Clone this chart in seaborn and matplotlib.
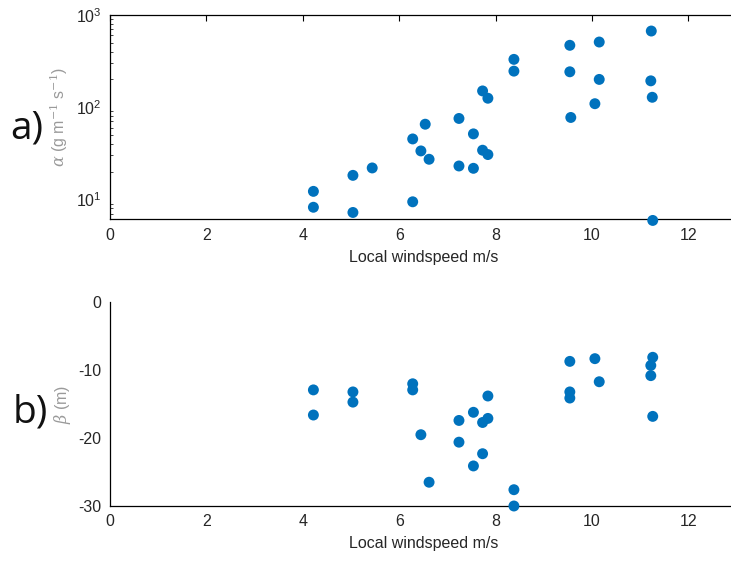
import numpy as np
import pandas as pd
import matplotlib
matplotlib.use("Agg")
import matplotlib.pyplot as plt
import seaborn as sns
from matplotlib.ticker import LogLocator, NullFormatter

# ---- data ----
alpha_wind = [4.22, 4.22, 5.04, 5.04, 5.44, 6.28, 6.54, 6.45, 6.62, 6.28,
              7.24, 7.24, 7.54, 7.54, 7.73, 7.84, 7.73, 7.84, 8.38, 8.38,
              9.54, 9.54, 9.56, 10.15, 10.15, 10.06, 11.23, 11.22, 11.25, 11.26]
alpha_vals = [12.2, 8.2, 18.2, 7.2, 21.9, 45.2, 65.3, 33.5, 27.2, 9.4,
              75.4, 23.0, 51.3, 21.7, 150, 125, 34.1, 30.6, 330, 246,
              469, 242, 77.3, 509, 200, 109, 670, 193, 128, 5.9]

beta_wind = [4.22, 4.22, 5.04, 5.04, 6.28, 6.28, 6.45, 6.62, 7.24, 7.24,
             7.54, 7.54, 7.84, 7.84, 7.73, 7.73, 8.38, 8.38, 9.54, 9.54,
             9.54, 10.06, 10.15, 11.26, 11.22, 11.22, 11.26]
beta_vals = [-12.9, -16.6, -13.2, -14.7, -12.0, -12.9, -19.5, -26.5, -17.4, -20.6,
             -16.2, -24.1, -13.8, -17.1, -17.7, -22.3, -27.6, -30.0, -8.7, -13.2,
             -14.1, -8.3, -11.7, -8.1, -9.3, -10.8, -16.8]

xticks = [0, 2, 4, 6, 8, 10, 12]
beta_ticks = [0, -10, -20, -30]
xlabel = "Local windspeed m/s"

df_a = pd.DataFrame({"wind": alpha_wind, "alpha": alpha_vals})
df_b = pd.DataFrame({"wind": beta_wind, "beta": beta_vals})

sns.set_style("white")
plt.rcParams["font.family"] = ["Liberation Sans", "DejaVu Sans"]
plt.rcParams["mathtext.fontset"] = "dejavuserif"
plt.rcParams["axes.unicode_minus"] = False

W, H = 731, 563
fig = plt.figure(figsize=(W / 100, H / 100), dpi=100)

def frac(l, t, r, b):
    return [l / W, 1 - b / H, (r - l) / W, (b - t) / H]

mcolor = "#0072BD"
tick_color = "#262626"
label_gray = "#9a9a9a"

axa = fig.add_axes(frac(110, 15, 736.6, 219.3))
axb = fig.add_axes(frac(110, 302.3, 736.6, 506))

sns.scatterplot(data=df_a, x="wind", y="alpha", ax=axa, s=62, color=mcolor,
                edgecolor="none", linewidth=0, legend=False, clip_on=False, zorder=3)
sns.scatterplot(data=df_b, x="wind", y="beta", ax=axb, s=62, color=mcolor,
                edgecolor="none", linewidth=0, legend=False, clip_on=False, zorder=3)

# top panel
axa.set_yscale("log")
axa.set_ylim(6.07, 1000)
axa.set_xlim(0, 13)
axa.set_xticks(xticks)
axa.yaxis.set_major_locator(LogLocator(base=10, numticks=10))
axa.yaxis.set_minor_locator(LogLocator(base=10, subs=np.arange(2, 10), numticks=10))
axa.yaxis.set_minor_formatter(NullFormatter())
axa.tick_params(axis="both", which="major", direction="in", length=4, width=0.8,
                labelsize=11.5, colors="#000000", labelcolor=tick_color,
                top=True, right=True, pad=6)
axa.tick_params(axis="y", which="minor", direction="in", length=2, width=0.6,
                left=True, right=True)
for side in ["left", "bottom", "top", "right"]:
    axa.spines[side].set_visible(True)
    axa.spines[side].set_color("#000000")
    axa.spines[side].set_linewidth(0.9)
axa.set_xlabel(xlabel, fontsize=11.5, color=tick_color, labelpad=5)
axa.set_ylabel(r"$\alpha$ (g m$^{-1}$ s$^{-1}$)", fontsize=11.5, color=label_gray, labelpad=4)

# bottom panel
axb.set_ylim(-30, 0)
axb.set_xlim(0, 13)
axb.set_xticks(xticks)
axb.set_yticks(beta_ticks)
axb.tick_params(axis="both", which="major", direction="in", length=4, width=0.8,
                labelsize=11.5, colors="#000000", labelcolor=tick_color,
                top=False, right=False, pad=6)
for side in ["top", "right"]:
    axb.spines[side].set_visible(False)
for side in ["left", "bottom"]:
    axb.spines[side].set_visible(True)
    axb.spines[side].set_color("#000000")
    axb.spines[side].set_linewidth(0.9)
axb.set_xlabel(xlabel, fontsize=11.5, color=tick_color, labelpad=5)
axb.set_ylabel(r"$\beta$ (m)", fontsize=11.5, color=label_gray, labelpad=4)

# panel letters
fig.text(10 / W, 1 - 128 / H, "a)", fontsize=28, family=["Open Sans", "DejaVu Sans"],
         va="center", ha="left", color="#111111")
fig.text(13 / W, 1 - 412 / H, "b)", fontsize=28, family=["Open Sans", "DejaVu Sans"],
         va="center", ha="left", color="#111111")

fig.savefig("out.png", dpi=100)
